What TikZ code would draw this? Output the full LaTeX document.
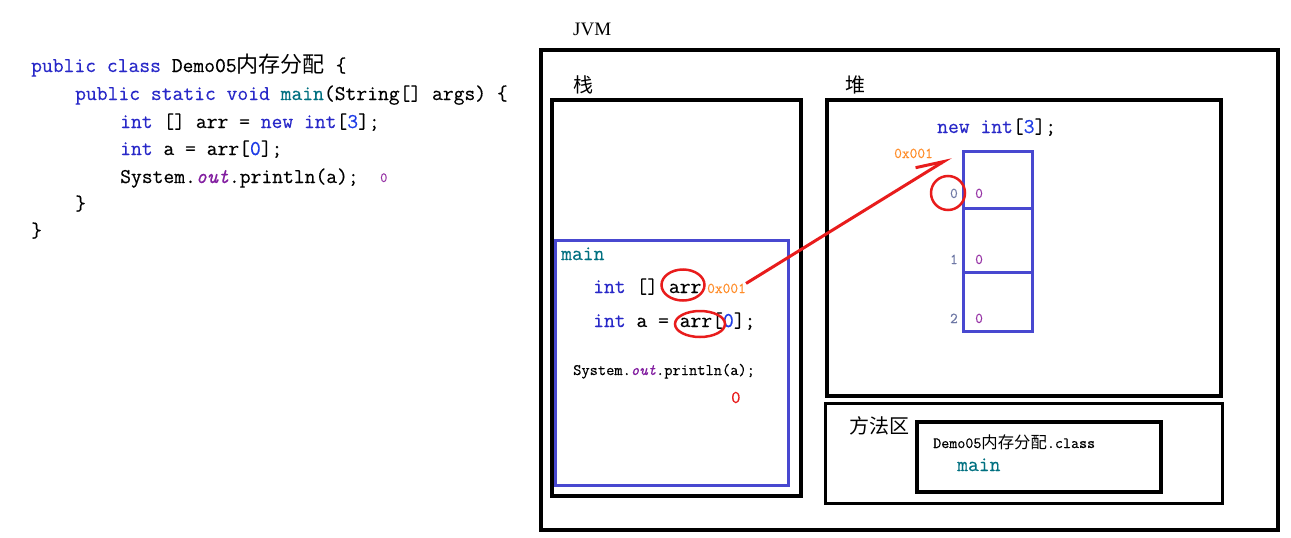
\documentclass[tikz,border=0pt]{standalone}
\usepackage{fontspec}
\setmainfont{Liberation Serif}
\newfontfamily\codefont[FakeBold=0.4]{Latin Modern Mono}
\newfontfamily\cjk[Scale=1.05]{Noto Sans CJK SC}
\newfontfamily\hanfont{Noto Sans CJK SC}
\usetikzlibrary{arrows.meta,positioning,shapes.geometric,calc}
\definecolor{kwblue}{RGB}{40,40,200}
\definecolor{numblue}{RGB}{30,60,230}
\definecolor{mainteal}{RGB}{0,112,128}
\definecolor{outpurple}{RGB}{130,30,160}
\definecolor{valpurple}{RGB}{150,50,165}
\definecolor{addrorange}{RGB}{255,140,40}
\definecolor{idxgray}{RGB}{110,120,165}
\definecolor{boxblue}{RGB}{72,72,208}
\definecolor{ringred}{RGB}{232,28,28}
\newcommand{\kw}[1]{\textcolor{kwblue}{#1}}
\newcommand{\mn}[1]{\textcolor{mainteal}{#1}}
\newcommand{\nm}[1]{\textcolor{numblue}{#1}}
\newcommand{\outf}{\textcolor{outpurple}{\textit{out}}}
\tikzset{
  code/.style={anchor=base west, inner sep=0pt, font=\codefont\fontsize{21}{24}\selectfont},
  smallcode/.style={anchor=base west, inner sep=0pt, font=\codefont\fontsize{16}{18}\selectfont},
  hanlbl/.style={anchor=base west, inner sep=0pt, font=\hanfont\fontsize{20}{22}\selectfont},
  memframe/.style={draw, line width=3.5pt, anchor=north west, inner sep=0pt, outer sep=0pt},
  bframe/.style={draw=boxblue, line width=3pt, anchor=north west, inner sep=0pt, outer sep=0pt},
  ring/.style={draw=ringred, line width=2.5pt, ellipse, inner sep=0pt},
  ptr/.style={draw=ringred, line width=3pt, -{Straight Barb[left,length=27pt,width=19pt]}},
  idx/.style={anchor=base east, inner sep=0pt, text=idxgray, font=\codefont\fontsize{15}{16}\selectfont},
  val/.style={anchor=base west, inner sep=0pt, text=valpurple, font=\codefont\fontsize{15}{16}\selectfont}
}
\begin{document}
\begin{tikzpicture}[x=1pt,y=-1pt]
  \useasboundingbox (0,0) rectangle (1291,538);
  % source code
  \node[code] (l1) at (31,72) {\kw{public class} Demo05{\cjk 内存分配} \{};
  \node[code] (l2) at (75,100) {\kw{public static void} \mn{main}(String[] args) \{};
  \node[code] (l3) at (120,128) {\kw{int} [] arr = \kw{new} \kw{int}[\nm{3}];};
  \node[code] (l4) at (120,155) {\kw{int} a = arr[\nm{0}];};
  \node[code] (l5) at (120,183) {System.\outf.println(a);};
  \node[anchor=base west, inner sep=0pt, text=valpurple, font=\codefont\fontsize{14}{16}\selectfont] (res) at (380,182) {0};
  \node[code] (l6) at (75,210) {\}};
  \node[code] (l7) at (31,237) {\}};
  % jvm
  \node[anchor=base west, inner sep=0pt, font=\fontsize{19}{20}\selectfont] (jvmlbl) at (573,35) {JVM};
  \node[memframe, minimum width=737pt, minimum height=480pt] (jvm) at (541,50) {};
  % stack
  \node[hanlbl] (stacklbl) at (573,92) {栈};
  \node[memframe, minimum width=249pt, minimum height=396pt] (stack) at (552,100) {};
  \node[bframe, minimum width=233pt, minimum height=245pt] (mainfr) at (555,240) {};
  \node[code] (mainlbl) at (561,260) {\mn{main}};
  \node[code] (decl) at (593,293) {\kw{int} [] arr};
  \node[smallcode, font=\codefont\fontsize{15}{16}\selectfont, text=addrorange] (ref) at (707,293) {0x001};
  \node[code] (load) at (593,327) {\kw{int} a = arr[\nm{0}];};
  \node[smallcode] (print) at (573,375) {System.\outf.println(a);};
  \node[anchor=base west, inner sep=0pt, text=ringred, font=\codefont\fontsize{18}{18}\selectfont] (out) at (731,403) {0};
  \node[ring, minimum width=43pt, minimum height=31pt] (ring1) at (683,285) {};
  \node[ring, minimum width=50pt, minimum height=26pt] (ring2) at (700,324) {};
  % heap
  \node[hanlbl] (heaplbl) at (845,92) {堆};
  \node[memframe, minimum width=394pt, minimum height=296pt] (heap) at (827,100) {};
  \node[code] (newarr) at (937,133) {\kw{new} \kw{int}[\nm{3}];};
  \node[smallcode, font=\codefont\fontsize{15}{16}\selectfont, text=addrorange] (addr) at (894,158) {0x001};
  \node[bframe, minimum width=69pt, minimum height=57pt] (cell0) at (963,151) {};
  \node[bframe, minimum width=69pt, minimum height=64pt, below=0pt of cell0] (cell1) {};
  \node[bframe, minimum width=69pt, minimum height=59pt, below=0pt of cell1] (cell2) {};
  \foreach \i/\y in {0/198,1/264,2/323} {
    \node[idx] (idx\i) at (958,\y) {\i};
    \node[val] (val\i) at (975,\y) {0};
  }
  \node[ring, circle, minimum size=34pt] (ring0) at (948,193) {};
  \draw[ptr] (ref.north east) -- ($(cell0.north west)+(-12,6)$);
  % method area
  \node[memframe, line width=3pt, minimum width=397pt, minimum height=100pt] (method) at (825,403) {};
  \node[hanlbl] (methodlbl) at (849,433) {方法区};
  \node[memframe, minimum width=244pt, minimum height=70pt] (classbox) at (917,422) {};
  \node[smallcode, font=\codefont\fontsize{15.6}{16}\selectfont] (classname) at (933,448) {Demo05{\cjk 内存分配}.class};
  \node[code] (classmain) at (957,471) {\mn{main}};
\end{tikzpicture}
\end{document}
